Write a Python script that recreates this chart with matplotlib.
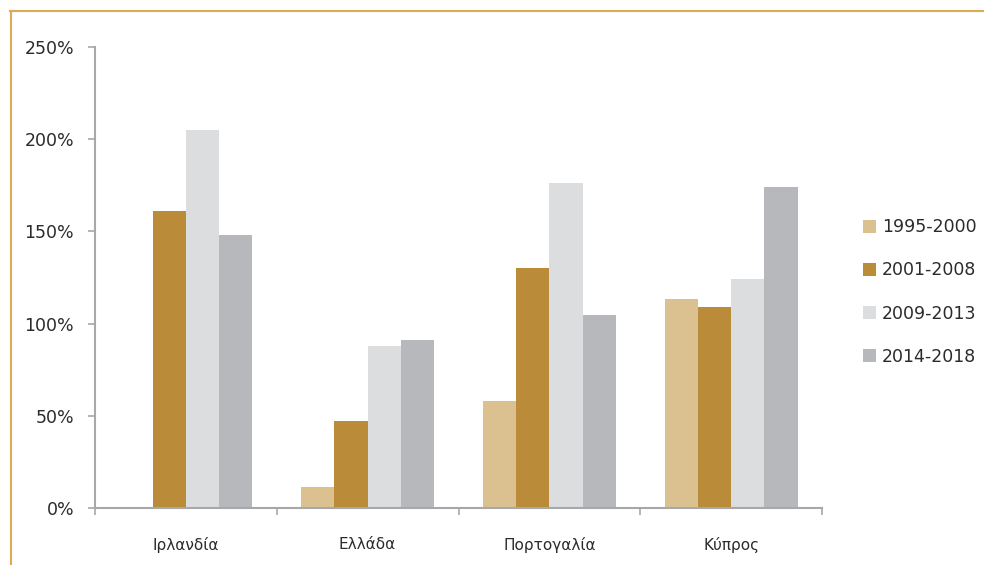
import matplotlib.pyplot as plt
import numpy as np
from matplotlib.lines import Line2D
from matplotlib.ticker import FixedLocator, PercentFormatter

countries = ["Ιρλανδία", "Ελλάδα", "Πορτογαλία", "Κύπρος"]
periods = ["1995-2000", "2001-2008", "2009-2013", "2014-2018"]

# values in percent, one list per period (Ireland has no 1995-2000 bar)
v_1995_2000 = [0, 11.4, 58, 113.3]
v_2001_2008 = [161, 47.2, 130.3, 109]
v_2009_2013 = [205, 87.9, 176.4, 124.2]
v_2014_2018 = [148, 91.1, 104.8, 174]

colors = ["#DBC18F", "#BA8B38", "#DCDDDF", "#B7B8BB"]
axis_grey = "#A7A8AB"
text_col = "#2B2B2B"

plt.rcParams["font.family"] = ["DejaVu Sans"]

fig = plt.figure(figsize=(9.84, 5.65), dpi=100)
ax = fig.add_axes([95 / 984, 1 - 508 / 565, (822 - 95) / 984, (508 - 47) / 565])

series = [v_1995_2000, v_2001_2008, v_2009_2013, v_2014_2018]
x = np.arange(len(countries))
bw = 0.183
for i, (vals, col, lab) in enumerate(zip(series, colors, periods)):
    ax.bar(x + (i - 1.5) * bw, vals, width=bw, color=col, label=lab, zorder=2)

ax.set_xlim(-0.5, len(countries) - 0.5)
ax.set_ylim(0, 250)
ax.yaxis.set_major_locator(FixedLocator([0, 50, 100, 150, 200, 250]))
ax.yaxis.set_major_formatter(PercentFormatter(decimals=0))

ax.set_xticks(x)
ax.set_xticklabels(countries)
ax.set_xticks(np.arange(len(countries) + 1) - 0.5, minor=True)
ax.tick_params(axis="x", which="major", length=0, pad=21, labelsize=11, labelcolor=text_col)
ax.tick_params(axis="x", which="minor", length=5, width=1.2, color=axis_grey, direction="out")
ax.tick_params(axis="y", length=5, width=1.2, color=axis_grey, pad=10, labelsize=12.5, labelcolor=text_col)

for side in ["top", "right"]:
    ax.spines[side].set_visible(False)
for side in ["left", "bottom"]:
    ax.spines[side].set_color(axis_grey)
    ax.spines[side].set_linewidth(1.5)

leg = ax.legend(
    loc="center left",
    bbox_to_anchor=(1.047, 0.4685),
    borderaxespad=0,
    frameon=False,
    fontsize=12.5,
    handlelength=0.75,
    handleheight=0.75,
    handletextpad=0.35,
    labelspacing=1.45,
)
for t in leg.get_texts():
    t.set_color(text_col)

# gold frame lines at top and left
gold = "#DDAA55"
fig.add_artist(Line2D([10 / 984, 1], [1 - 10.5 / 565] * 2, color=gold, lw=1.5))
fig.add_artist(Line2D([10.5 / 984] * 2, [0, 1 - 10.5 / 565], color=gold, lw=1.5))

fig.savefig("out.png", dpi=100)
